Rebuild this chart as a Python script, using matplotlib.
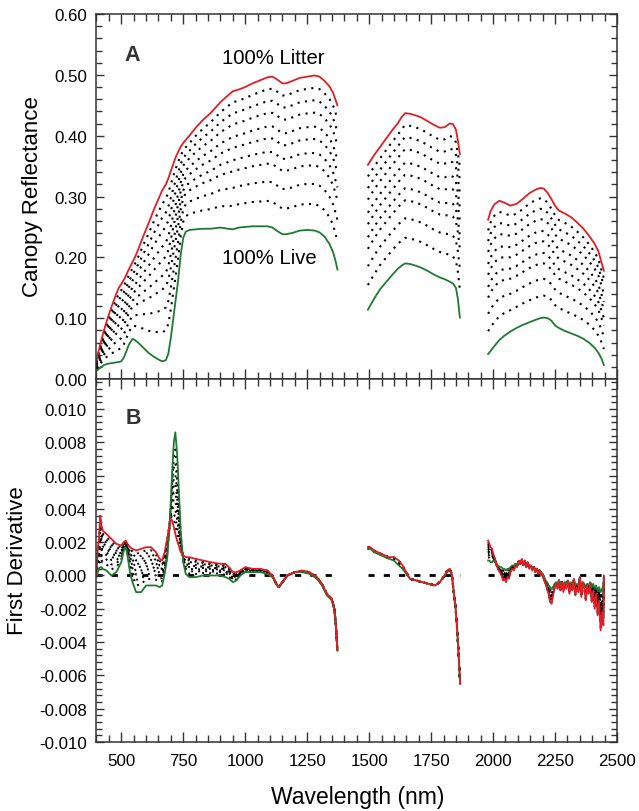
import numpy as np
import matplotlib
matplotlib.use("Agg")
import matplotlib.pyplot as plt
from matplotlib.ticker import MultipleLocator, FormatStrFormatter

plt.rcParams['font.family'] = ['Liberation Sans', 'DejaVu Sans']
plt.rcParams['axes.unicode_minus'] = False

# ---------------- Panel A: canopy reflectance ----------------
wl_a1 = [400, 410, 420, 430, 445, 460, 475, 490, 500, 510, 520, 530, 545, 555, 570, 590, 610, 630,
         650, 665, 680, 690, 700, 710, 720, 730, 740, 750, 760, 775, 800, 830, 860, 900, 930, 950,
         975, 1000, 1030, 1060, 1090, 1110, 1130, 1150, 1165, 1190, 1220, 1250, 1280, 1300, 1320,
         1340, 1355, 1365, 1372]
litter_a1 = [0.030, 0.048, 0.065, 0.080, 0.100, 0.118, 0.135, 0.150, 0.156, 0.163, 0.171, 0.180,
             0.192, 0.200, 0.215, 0.236, 0.256, 0.277, 0.296, 0.310, 0.320, 0.330, 0.342, 0.354,
             0.365, 0.374, 0.382, 0.388, 0.393, 0.400, 0.413, 0.426, 0.437, 0.455, 0.466, 0.473,
             0.476, 0.480, 0.486, 0.491, 0.496, 0.497, 0.492, 0.486, 0.486, 0.490, 0.495, 0.497,
             0.499, 0.497, 0.490, 0.481, 0.470, 0.458, 0.450]
live_a1 = [0.013, 0.017, 0.020, 0.023, 0.025, 0.026, 0.027, 0.028, 0.029, 0.035, 0.045, 0.056,
           0.066, 0.064, 0.059, 0.051, 0.043, 0.037, 0.032, 0.029, 0.031, 0.042, 0.068, 0.100,
           0.132, 0.165, 0.205, 0.232, 0.242, 0.245, 0.246, 0.247, 0.247, 0.249, 0.247, 0.246,
           0.249, 0.250, 0.251, 0.251, 0.251, 0.249, 0.243, 0.238, 0.238, 0.240, 0.244, 0.245,
           0.244, 0.241, 0.234, 0.222, 0.208, 0.193, 0.180]

wl_a2 = [1495, 1520, 1545, 1570, 1595, 1615, 1630, 1645, 1665, 1690, 1710, 1735, 1760, 1785,
         1805, 1825, 1838, 1850, 1858, 1866]
litter_a2 = [0.352, 0.368, 0.382, 0.396, 0.410, 0.420, 0.430, 0.437, 0.436, 0.433, 0.430, 0.424,
             0.418, 0.413, 0.414, 0.420, 0.419, 0.410, 0.392, 0.370]
live_a2 = [0.114, 0.132, 0.148, 0.160, 0.172, 0.181, 0.186, 0.190, 0.189, 0.186, 0.183, 0.178,
           0.172, 0.167, 0.164, 0.160, 0.157, 0.150, 0.132, 0.101]

wl_a3 = [1980, 1990, 2005, 2025, 2045, 2070, 2095, 2120, 2145, 2170, 2190, 2205, 2220, 2235,
         2250, 2265, 2290, 2315, 2340, 2365, 2390, 2410, 2425, 2437, 2447]
litter_a3 = [0.262, 0.276, 0.287, 0.293, 0.290, 0.285, 0.288, 0.296, 0.305, 0.311, 0.314, 0.313,
             0.306, 0.296, 0.285, 0.277, 0.272, 0.266, 0.257, 0.247, 0.234, 0.222, 0.210, 0.192,
             0.178]
live_a3 = [0.041, 0.046, 0.054, 0.064, 0.071, 0.078, 0.084, 0.089, 0.093, 0.097, 0.100, 0.101,
           0.100, 0.096, 0.088, 0.084, 0.079, 0.075, 0.071, 0.066, 0.059, 0.051, 0.043, 0.034,
           0.023]

mix_weights = [0.17, 0.30, 0.42, 0.50, 0.59, 0.67, 0.76, 0.84, 0.92]

# ---------------- Panel B: first derivative ----------------
wl_b1 = [400, 405, 410, 415, 420, 425, 440, 460, 480, 500, 510, 518, 525, 535, 545, 560, 580, 600,
         620, 640, 655, 665, 675, 685, 695, 700, 705, 712, 718, 725, 732, 740, 750, 760, 775, 800,
         830, 860, 900, 920, 935, 950, 965, 980, 1000, 1030, 1060, 1090, 1110, 1125, 1135, 1150,
         1170, 1200, 1230, 1260, 1290, 1310, 1330, 1350, 1360, 1366, 1372]
litter_b1 = [0.0000, 0.0016, 0.0022, 0.0036, 0.0030, 0.0027, 0.0025, 0.0022, 0.0019, 0.0018,
             0.0020, 0.0021, 0.0019, 0.0017, 0.0016, 0.0015, 0.0016, 0.0017, 0.0017, 0.0014,
             0.0010, 0.0009, 0.0014, 0.0022, 0.0031, 0.0034, 0.0033, 0.0029, 0.0025, 0.0021,
             0.0018, 0.0014, 0.0012, 0.0011, 0.0011, 0.0010, 0.0009, 0.0008, 0.0007, 0.0007,
             0.0005, 0.0002, 0.0002, 0.0003, 0.0005, 0.0004, 0.0004, 0.0003, 0.0000, -0.0005,
             -0.0007, -0.0004, 0.0000, 0.0002, 0.0003, 0.0002, -0.0001, -0.0005, -0.0011,
             -0.0014, -0.0020, -0.0030, -0.0045]
live_b1 = [-0.0001, 0.0002, 0.0004, 0.0005, 0.0005, 0.0004, 0.0003, 0.0000, 0.0002, 0.0008,
           0.0015, 0.0017, 0.0012, 0.0002, -0.0004, -0.0010, -0.0010, -0.0006, -0.0006, -0.0006,
           -0.0007, -0.0006, 0.0001, 0.0010, 0.0030, 0.0045, 0.0062, 0.0080, 0.0086, 0.0074,
           0.0052, 0.0026, 0.0008, 0.0001, -0.0001, -0.0001, 0.0000, 0.0000, 0.0000, -0.0001,
           -0.0002, -0.0004, -0.0003, 0.0000, 0.0002, 0.0002, 0.0002, 0.0001, -0.0001, -0.0005,
           -0.0007, -0.0004, 0.0000, 0.0002, 0.0002, 0.0001, -0.0002, -0.0006, -0.0012, -0.0015,
           -0.0021, -0.0031, -0.0045]

wl_b2 = [1495, 1505, 1520, 1550, 1580, 1600, 1620, 1635, 1650, 1665, 1690, 1715, 1740, 1765,
         1785, 1800, 1815, 1825, 1833, 1840, 1848, 1855, 1862, 1867]
litter_b2 = [0.0017, 0.0017, 0.0015, 0.0013, 0.0011, 0.0011, 0.0009, 0.0006, 0.0002, -0.0002,
             -0.0003, -0.0004, -0.0005, -0.0006, -0.0004, -0.0001, 0.0003, 0.0004, 0.0001,
             -0.0008, -0.0018, -0.0032, -0.0050, -0.0065]
live_b2 = [0.0016, 0.0016, 0.0014, 0.0012, 0.0010, 0.0009, 0.0006, 0.0004, 0.0001, -0.0002,
           -0.0003, -0.0004, -0.0005, -0.0006, -0.0004, -0.0001, 0.0002, 0.0004, 0.0001,
           -0.0008, -0.0018, -0.0032, -0.0050, -0.0065]

wl_b3 = [1980, 1985, 1990, 1996, 2002, 2008, 2014, 2020, 2027, 2034, 2040, 2046, 2052, 2058, 2064,
         2070, 2077, 2084, 2090, 2097, 2104, 2110, 2116, 2122, 2128, 2134, 2140, 2146, 2152, 2158,
         2164, 2170, 2176, 2182, 2188, 2194, 2200, 2206, 2212, 2218, 2224, 2230, 2236, 2242, 2248,
         2254, 2260, 2266, 2272, 2278, 2284, 2290, 2296, 2302, 2308, 2314, 2320, 2326, 2332, 2338,
         2344, 2350, 2356, 2362, 2368, 2374, 2380, 2386, 2392, 2398, 2404, 2410, 2416, 2422, 2428,
         2434, 2440, 2445, 2447]
litter_b3 = [0.0021, 0.0019, 0.0017, 0.0016, 0.0012, 0.0010, 0.0006, 0.0004, 0.0002, 0.0000,
             -0.0003, -0.0002, -0.0004, -0.0001, -0.0002, 0.0002, 0.0004, 0.0003, 0.0006, 0.0005,
             0.0009, 0.0007, 0.0010, 0.0006, 0.0009, 0.0005, 0.0008, 0.0004, 0.0006, 0.0003,
             0.0005, 0.0002, 0.0004, 0.0001, 0.0003, 0.0000, 0.0001, -0.0003, -0.0005, -0.0008,
             -0.0011, -0.0016, -0.0017, -0.0012, -0.0007, -0.0005, -0.0008, -0.0003, -0.0009,
             -0.0004, -0.0010, -0.0005, -0.0008, -0.0003, -0.0011, -0.0006, -0.0009, -0.0002,
             -0.0012, -0.0007, -0.0010, -0.0001, -0.0013, -0.0004, -0.0008, -0.0015, -0.0006,
             -0.0011, -0.0005, -0.0016, -0.0009, -0.0020, -0.0011, -0.0024, -0.0015, -0.0033,
             -0.0022, -0.0030, 0.0000]
live_b3 = [0.0009, 0.0009, 0.0008, 0.0008, 0.0009, 0.0008, 0.0007, 0.0006, 0.0005, 0.0005,
           0.0004, 0.0004, 0.0003, 0.0004, 0.0004, 0.0005, 0.0006, 0.0006, 0.0007, 0.0007,
           0.0008, 0.0007, 0.0008, 0.0007, 0.0007, 0.0006, 0.0007, 0.0006, 0.0005, 0.0005,
           0.0005, 0.0004, 0.0004, 0.0003, 0.0003, 0.0002, 0.0001, -0.0001, -0.0003, -0.0004,
           -0.0006, -0.0007, -0.0008, -0.0007, -0.0005, -0.0004, -0.0005, -0.0003, -0.0005,
           -0.0004, -0.0006, -0.0004, -0.0005, -0.0003, -0.0006, -0.0004, -0.0005, -0.0003,
           -0.0006, -0.0005, -0.0006, -0.0003, -0.0006, -0.0004, -0.0005, -0.0007, -0.0005,
           -0.0006, -0.0004, -0.0007, -0.0005, -0.0008, -0.0006, -0.0009, -0.0007, -0.0010,
           -0.0008, -0.0006, -0.0004]

y_ticks_a = [0.00, 0.10, 0.20, 0.30, 0.40, 0.50, 0.60]
y_ticks_b = [-0.010, -0.008, -0.006, -0.004, -0.002, 0.000, 0.002, 0.004, 0.006, 0.008, 0.010]
x_ticks = [500, 750, 1000, 1250, 1500, 1750, 2000, 2250, 2500]

RED = '#e01e26'
GREEN = '#1f7a30'
DOT = (0, (1.0, 2.6))

fig = plt.figure(figsize=(6.39, 8.12), dpi=100)
W, H = 639, 812
L, R = 96.5, 617
axA = fig.add_axes([L / W, 1 - 380 / H, (R - L) / W, (380 - 15) / H])
axB = fig.add_axes([L / W, 1 - 743 / H, (R - L) / W, (743 - 380) / H])

segA = [(wl_a1, litter_a1, live_a1), (wl_a2, litter_a2, live_a2), (wl_a3, litter_a3, live_a3)]
segB = [(wl_b1, litter_b1, live_b1), (wl_b2, litter_b2, live_b2), (wl_b3, litter_b3, live_b3)]

for ax, segs, lw_mix in ((axA, segA, 1.5), (axB, segB, 1.4)):
    for wl, lit, liv in segs:
        wl = np.asarray(wl, float)
        lit = np.asarray(lit, float)
        liv = np.asarray(liv, float)
        for w in mix_weights:
            ax.plot(wl, liv + w * (lit - liv), color='black', lw=lw_mix, linestyle=DOT)
        ax.plot(wl, liv, color=GREEN, lw=1.3)
        ax.plot(wl, lit, color=RED, lw=1.3)

# zero reference line in panel B
for wl, _, _ in segB:
    axB.plot([wl[0], wl[-1]], [0, 0], color='black', lw=2.0, linestyle=(0, (2.2, 3.3)), zorder=1)

axA.set_xlim(400, 2500)
axB.set_xlim(400, 2500)
axA.set_ylim(0, 0.60)
axB.set_ylim(-0.010, 0.0118)

axA.set_yticks(y_ticks_a)
axA.yaxis.set_major_formatter(FormatStrFormatter('%.2f'))
axA.yaxis.set_minor_locator(MultipleLocator(0.02))
axB.set_yticks(y_ticks_b)
axB.yaxis.set_major_formatter(FormatStrFormatter('%.3f'))
axB.yaxis.set_minor_locator(MultipleLocator(0.0004))

for ax in (axA, axB):
    ax.set_xticks(x_ticks)
    ax.xaxis.set_minor_locator(MultipleLocator(50))
    ax.tick_params(axis='both', which='both', direction='in', top=True, right=True,
                   color='#333333', width=1.0)
    ax.tick_params(axis='x', which='major', length=7)
    ax.tick_params(axis='x', which='minor', length=5)
    ax.tick_params(axis='y', which='major', length=6)
    ax.tick_params(axis='y', which='minor', length=4)
    ax.tick_params(axis='both', labelsize=12.2, pad=7)
    for s in ax.spines.values():
        s.set_linewidth(1.1)
        s.set_color('#333333')

axA.tick_params(axis='x', labelbottom=False)
axB.tick_params(axis='x', pad=8)

axA.text(0.068, 0.89, 'A', transform=axA.transAxes, fontsize=15.5, fontweight='bold',
         ha='center', va='center', color='#333333')
axB.text(0.070, 0.895, 'B', transform=axB.transAxes, fontsize=15.5, fontweight='bold',
         ha='center', va='center', color='#333333')
axA.text(905, 0.529, '100% Litter', fontsize=14.6, ha='left', va='center')
axA.text(905, 0.2005, '100% Live', fontsize=14.6, ha='left', va='center')

fig.text(33 / W, 1 - 197 / H, 'Canopy Reflectance', rotation=90, fontsize=16,
         ha='center', va='center')
fig.text(18 / W, 1 - 561 / H, 'First Derivative', rotation=90, fontsize=16,
         ha='center', va='center')
fig.text(358 / W, 1 - 798 / H, 'Wavelength (nm)', fontsize=16.5, ha='center', va='center')

fig.savefig('out.png', dpi=100)
